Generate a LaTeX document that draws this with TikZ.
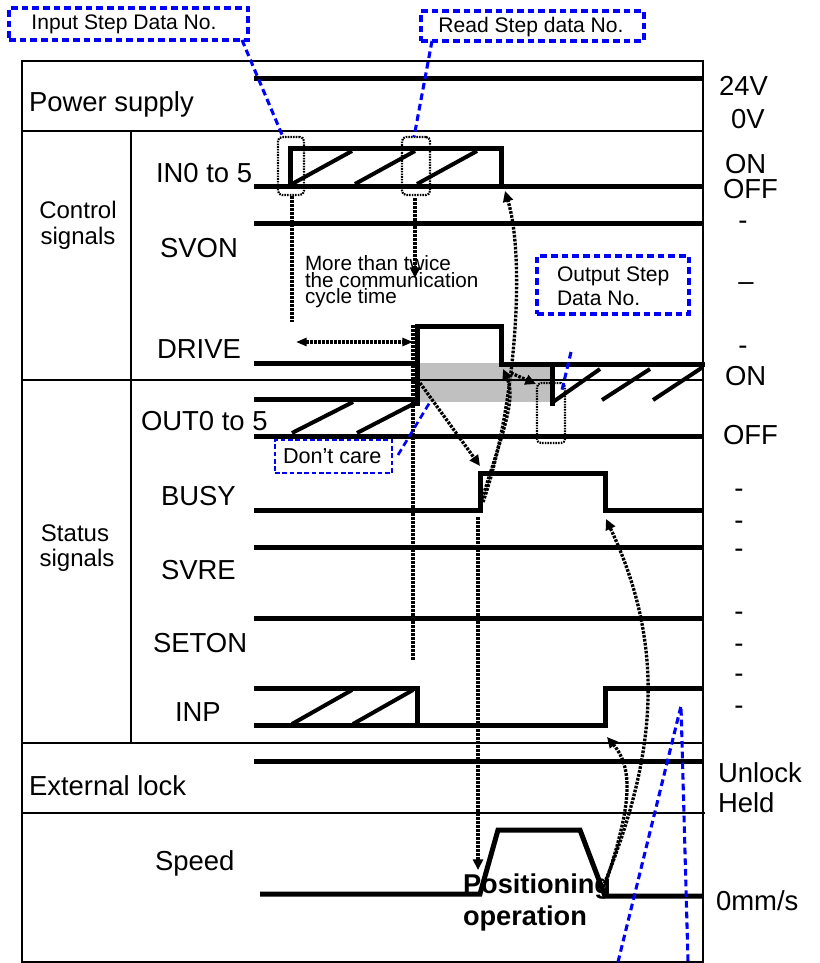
\documentclass[tikz,border=0pt]{standalone}
\usepackage{fontspec}
\setmainfont{Liberation Sans}
\usetikzlibrary{arrows.meta}
\definecolor{greyband}{RGB}{192,192,192}
\definecolor{callblue}{RGB}{0,0,255}
\begin{document}
\begin{tikzpicture}[x=0.75pt,y=-0.75pt,
 every node/.style={inner sep=0pt, outer sep=0pt},
 big/.style={font=\fontsize{20.6}{24}\selectfont},
 grp/.style={font=\fontsize{18}{21}\selectfont},
 small/.style={font=\fontsize{15.8}{18}\selectfont},
 frame/.style={line width=1.6pt},
 sig/.style={line width=3.75pt},
 hatch/.style={line width=3pt},
 dots/.style={line width=2.5pt, dash pattern=on 2pt off 1pt},
 tip/.style={-{Triangle[length=8pt,width=7.5pt]}},
 bluedash/.style={draw=callblue, line width=2.3pt, dash pattern=on 5pt off 3pt},
 dotbox/.style={draw, line width=1.6pt, dash pattern=on 1.2pt off 0.8pt, rounded corners=3pt},
]
\useasboundingbox (0,0) rectangle (819,963);

% grey band
\fill[greyband] (420,363) rectangle (550,402);

% frame
\draw[frame] (22,61) -- (703,61) -- (703,962) -- (22,962) -- cycle;
\draw[frame] (22,131) -- (703,131);
\draw[frame] (22,380) -- (703,380);
\draw[frame] (22,743) -- (703,743);
\draw[frame] (22,813) -- (705,813);
\draw[frame] (131,131) -- (131,743);

% labels left
\node[big, anchor=base west] (lps) at (29,112) {Power supply};
\node[grp, anchor=base] (lcs1) at (78,218) {Control};
\node[grp, anchor=base] (lcs2) at (78,244) {signals};
\node[grp, anchor=base] (lss1) at (75,541) {Status};
\node[grp, anchor=base] (lss2) at (77,566) {signals};
\node[big, anchor=base west] (lin) at (156,182) {IN0 to 5};
\node[big, anchor=base west] (lsvon) at (160,257) {SVON};
\node[big, anchor=base west] (ldrive) at (157,358) {DRIVE};
\node[big, anchor=base west] (lout) at (141,430) {OUT0 to 5};
\node[big, anchor=base west] (lbusy) at (161,505) {BUSY};
\node[big, anchor=base west] (lsvre) at (161,579) {SVRE};
\node[big, anchor=base west] (lseton) at (153,652) {SETON};
\node[big, anchor=base west] (linp) at (175,721) {INP};
\node[big, anchor=base west] (lext) at (29,795) {External lock};
\node[big, anchor=base west] (lspeed) at (155,870) {Speed};

% labels right
\node[big, anchor=base west] (r24) at (719,96) {24V};
\node[big, anchor=base west] (r0) at (731,129) {0V};
\node[big, anchor=base west] (ron1) at (725,173) {ON};
\node[big, anchor=base west] (roff1) at (723,199) {OFF};
\node[big, anchor=base west] (ron2) at (725,385) {ON};
\node[big, anchor=base west] (roff2) at (723,444) {OFF};
\node[big, anchor=base west] (runl) at (718,782) {Unlock};
\node[big, anchor=base west] (rheld) at (718,812) {Held};
\node[big, anchor=base west] (rmm) at (716,910) {0mm/s};
\node[big, anchor=base] (d1) at (743,229.5) {-};
\node[big, anchor=base] (d2) at (746,290.5) {–};
\node[big, anchor=base] (d3) at (743,354.5) {-};
\node[big, anchor=base] (d4) at (739,497.5) {-};
\node[big, anchor=base] (d5) at (739,529.5) {-};
\node[big, anchor=base] (d6) at (739,557.5) {-};
\node[big, anchor=base] (d7) at (739,620.5) {-};
\node[big, anchor=base] (d8) at (739,652.5) {-};
\node[big, anchor=base] (d9) at (739,682.5) {-};
\node[big, anchor=base] (d10) at (739,714.5) {-};

% signals
\draw[sig] (254,79) -- (703,79);
\draw[sig] (254,186) -- (703,186);
\draw[sig] (290,186) -- (290,149) -- (501,149) -- (501,186);
\draw[hatch] (292,184) -- (352,151) (355,184) -- (415,151) (417,184) -- (477,151);
\draw[sig] (254,223) -- (703,223);
\draw[sig] (254,363) -- (417,363) -- (417,326) -- (501,326) -- (501,364) -- (705,364);
\draw[sig] (417,363) -- (417,406);
\draw[sig] (254,399) -- (419,399);
\draw[sig] (254,436) -- (703,436);
\draw[hatch] (292,433) -- (353,402) (357,433) -- (417,402);
\draw[sig] (552,363) -- (552,406);
\draw[hatch] (553,402) -- (600,369) (602,400) -- (650,369) (653,400) -- (703,367);
\draw[sig] (254,510) -- (480,510) -- (480,473) -- (605,473) -- (605,510) -- (703,510);
\draw[sig] (254,547) -- (703,547);
\draw[sig] (254,618) -- (703,618);
\draw[sig] (254,688) -- (417,688) -- (417,725);
\draw[sig] (254,725) -- (605,725) -- (605,688) -- (703,688);
\draw[hatch] (292,724) -- (352,690) (353,724) -- (413,690);
\draw[sig] (254,761) -- (703,761);
\draw[sig] (260,894) -- (480,894) -- (498,830) -- (580,830) -- (605,896) -- (703,896);

% dotted rounded boxes
\node[dotbox, minimum width=19.5pt, minimum height=43.5pt] (db1) at (291,166) {};
\node[dotbox, minimum width=21pt, minimum height=43.5pt] (db2) at (416,166) {};
\node[dotbox, minimum width=21pt, minimum height=45pt] (db3) at (551,413) {};

% comment text
\node[font=\fontsize{15.5}{12.3}\selectfont, align=left, anchor=north west] (mtxt) at (305,256) {More than twice\\the communication\\cycle time};

% dotted connectors
\coordinate (a1s) at (292,196); \coordinate (a1e) at (292,322);
\draw[dots] (a1s) -- (a1e);
\coordinate (a2s) at (415,198); \coordinate (a2e) at (415,278);
\draw[dots, tip] (a2s) -- (a2e);
\coordinate (wl) at (296,342); \coordinate (wr) at (413,342);
\draw[dots, {Triangle[length=8pt,width=6pt]}-{Triangle[length=8pt,width=6pt]}] (wl) -- (wr);
\coordinate (drvt) at (413,325); \coordinate (drvb) at (413,660);
\draw[dots] (drvt) -- (drvb);
\coordinate (drvr) at (420,383); \coordinate (busyr) at (480,466);
\draw[dots, tip] (drvr) -- (busyr);
\coordinate (busyb) at (478,517); \coordinate (spds) at (478,870);
\draw[dots, tip] (busyb) -- (spds);
\coordinate (bu1) at (483,502); \coordinate (infall) at (505,191);
\draw[dots, tip] (bu1) .. controls (515,410) and (526,260) .. (infall);
\coordinate (bu2) at (480,506); \coordinate (drvf) at (503,369);
\draw[dots, tip] (bu2) .. controls (500,440) and (517,400) .. (drvf);
\coordinate (df) at (511,373); \coordinate (outc) at (536,384);
\draw[dots, tip] (df) -- (outc);
\coordinate (spe) at (603,887); \coordinate (busyf) at (606,519);
\draw[dots, tip] (spe) .. controls (655,760) and (668,650) .. (busyf);
\coordinate (spe2) at (605,885); \coordinate (inpr) at (607,737);
\draw[dots, tip] (spe2) .. controls (630,810) and (635,770) .. (inpr);

% blue callouts
\node[bluedash, minimum width=179.25pt, minimum height=24pt] (inbox) at (128.5,24) {};
\node[small, anchor=base] (intx) at (124,30) {Input Step Data No.};
\node[bluedash, minimum width=167.25pt, minimum height=22.5pt] (rdbox) at (532.5,26) {};
\node[small, anchor=base] (rdtx) at (531,33) {Read Step data No.};
\node[bluedash, minimum width=114pt, minimum height=43.5pt] (outbox) at (613,285) {};
\node[small, anchor=base west] (ot1) at (557,281) {Output Step};
\node[small, anchor=base west] (ot2) at (557,305) {Data No.};
\node[draw=callblue, line width=1.6pt, dash pattern=on 3.5pt off 2pt, minimum width=87.75pt, minimum height=24.75pt] (dcbox) at (333.5,456.5) {};
\node[font=\fontsize{16.2}{19}\selectfont, anchor=base west] (dctx) at (283,463) {Don’t care};

\coordinate (l1a) at (242,40); \coordinate (l1b) at (283,137);
\draw[bluedash] (l1a) -- (l1b);
\coordinate (l2a) at (432,41); \coordinate (l2b) at (414,137);
\draw[bluedash] (l2a) -- (l2b);
\coordinate (l3a) at (398,455); \coordinate (l3b) at (430,402);
\draw[bluedash, line width=2pt] (l3a) -- (l3b);
\coordinate (l4a) at (571,352); \coordinate (l4b) at (562,390);
\draw[bluedash] (l4a) -- (l4b);
\coordinate (l5a) at (618,962); \coordinate (l5t) at (681,706); \coordinate (l6a) at (688,962);
\draw[bluedash] (l5a) -- (l5t) -- (l6a);

% positioning text
\node[font=\bfseries\fontsize{20.4}{24}\selectfont, anchor=base west] (pos1) at (463,893) {Positioning};
\node[font=\bfseries\fontsize{20.4}{24}\selectfont, anchor=base west] (pos2) at (463,925) {operation};
\end{tikzpicture}
\end{document}
